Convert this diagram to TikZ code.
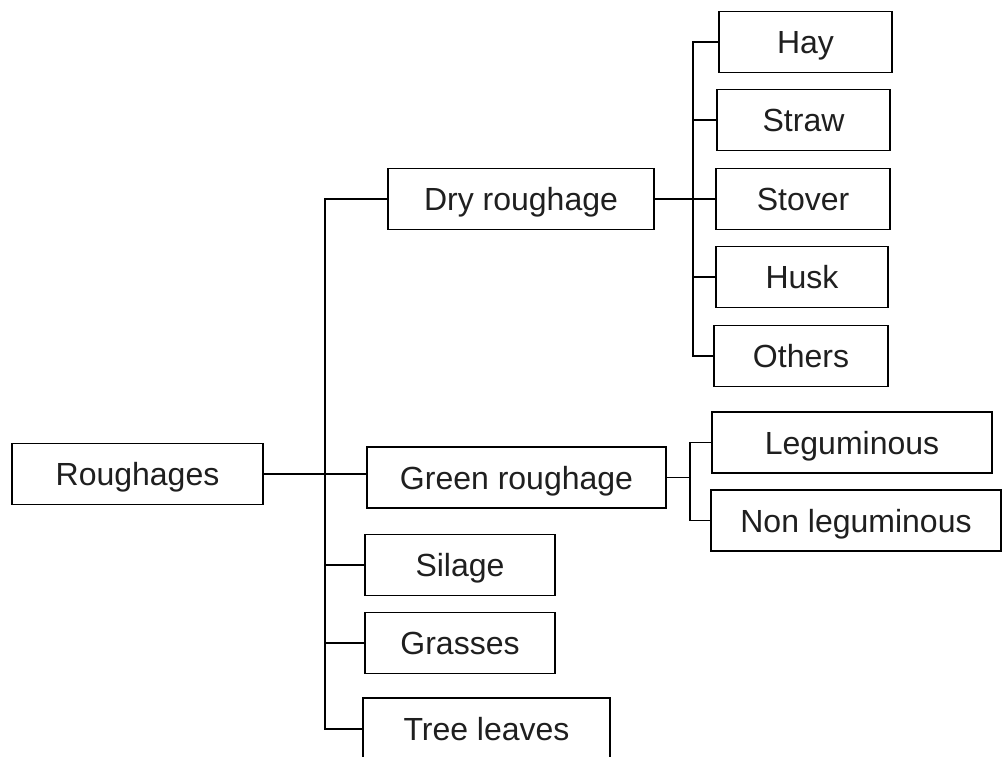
\documentclass[tikz,border=0pt]{standalone}
\usepackage{fontspec}
\setmainfont{Liberation Sans}
\begin{document}
\begin{tikzpicture}[x=1pt,y=-1pt,
  box/.style={draw=black, line width=1.9pt, inner sep=0pt, minimum height=61pt,
    font=\fontsize{32}{36}\selectfont, text=black!88,
    text height=23pt, text depth=0pt},
  link/.style={draw=black, line width=1.7pt}]
\clip (0,0) rectangle (1002,756);
\fill[white] (0,0) rectangle (1002,756);
% nodes
\node[box, minimum width=251pt] (rough) at (137.5,474) {Roughages};
\node[box, minimum width=266pt] (dry) at (521,199) {Dry roughage};
\node[box, minimum width=299pt] (green) at (516.5,477.5) {Green roughage};
\node[box, minimum width=190pt] (silage) at (460,565) {Silage};
\node[box, minimum width=190pt] (grass) at (460,643) {Grasses};
\node[box, minimum width=247pt, minimum height=62pt] (tree) at (486.5,729) {Tree leaves};
\node[box, minimum width=173pt] (hay) at (805.5,42) {Hay};
\node[box, minimum width=173pt] (straw) at (803.5,120) {Straw};
\node[box, minimum width=174pt] (stover) at (803,199) {Stover};
\node[box, minimum width=172pt] (husk) at (802,277) {Husk};
\node[box, minimum width=174pt] (others) at (801,356) {Others};
\node[box, minimum width=280pt] (leg) at (852,442.5) {Leguminous};
\node[box, minimum width=290pt] (nonleg) at (856,520.5) {Non leguminous};
% spine coordinates
\coordinate (s1) at (325,199);
\coordinate (d1) at (693,199);
\coordinate (g1) at (690,477.5);
% connectors from Roughages
\draw[link] (rough.east) -- (rough.east -| s1);
\draw[link] (rough.east -| s1) -- (green.west |- rough.east);
\draw[link] (dry.west) -- (s1) -- (tree.west -| s1) -- (tree.west);
\draw[link] (silage.west -| s1) -- (silage.west);
\draw[link] (grass.west -| s1) -- (grass.west);
% dry roughage branch
\draw[link] (dry.east) -- (stover.west);
\draw[link] (hay.west) -- (hay.west -| d1) -- (others.west -| d1) -- (others.west);
\draw[link] (straw.west -| d1) -- (straw.west);
\draw[link] (husk.west -| d1) -- (husk.west);
% green roughage branch
\draw[link] (green.east) -- (g1);
\draw[link] (leg.west) -- (leg.west -| g1) -- (nonleg.west -| g1) -- (nonleg.west);
\end{tikzpicture}
\end{document}
